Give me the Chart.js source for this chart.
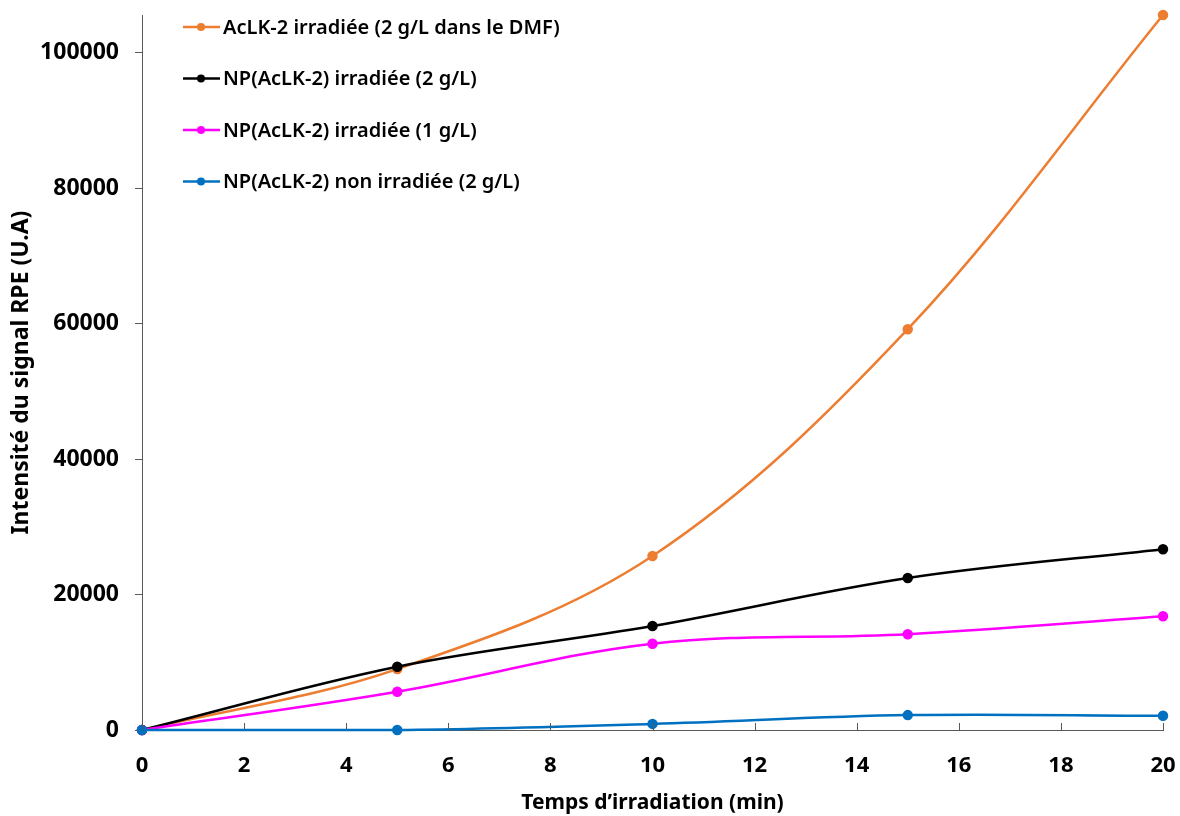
<!DOCTYPE html>
<html>
<head>
<meta charset="utf-8">
<title>Intensité du signal RPE</title>
<script src="https://cdn.jsdelivr.net/npm/chart.js@4.4.0/dist/chart.umd.min.js"></script>
<style>
  html, body { margin: 0; padding: 0; background: #fff; }
  #wrap { width: 1180px; height: 816px; }
</style>
</head>
<body>
<div id="wrap"><canvas id="rpeChart" width="1180" height="816"></canvas></div>
<script>
const times = [0, 5, 10, 15, 20];
const aclkDmf = [0, 9000, 25700, 59200, 105600];
const npIrr2 = [0, 9350, 15350, 22450, 26700];
const npIrr1 = [0, 5650, 12750, 14150, 16800];
const npNonIrr2 = [0, 0, 900, 2200, 2100];

const seriesNames = [
  'AcLK-2 irradiée (2 g/L dans le DMF)',
  'NP(AcLK-2) irradiée (2 g/L)',
  'NP(AcLK-2) irradiée (1 g/L)',
  'NP(AcLK-2) non irradiée (2 g/L)'
];
const seriesColors = ['#ED7D31', '#000000', '#FF00FF', '#0070C0'];
const seriesValues = [aclkDmf, npIrr2, npIrr1, npNonIrr2];

const xTicks = [0, 2, 4, 6, 8, 10, 12, 14, 16, 18, 20];
const yTicks = [0, 20000, 40000, 60000, 80000, 100000];

const FONT = '"Noto Sans", "Open Sans", sans-serif';
const axisColor = '#595959';

// legend drawn inside the plot area, line + dot + label, in the original order
const insideLegend = {
  id: 'insideLegend',
  afterDraw(chart) {
    const { ctx, chartArea } = chart;
    const x0 = chartArea.left + 41;
    ctx.save();
    ctx.font = '600 20px ' + FONT;
    ctx.textBaseline = 'middle';
    seriesNames.forEach((name, i) => {
      const y = chartArea.top + 12 + i * 51.5;
      ctx.strokeStyle = seriesColors[i];
      ctx.lineWidth = 2.5;
      ctx.beginPath();
      ctx.moveTo(x0, y);
      ctx.lineTo(x0 + 37, y);
      ctx.stroke();
      ctx.fillStyle = seriesColors[i];
      ctx.beginPath();
      ctx.arc(x0 + 18, y, 4, 0, Math.PI * 2);
      ctx.fill();
      ctx.fillStyle = '#000';
      ctx.fillText(name, x0 + 40, y + 1);
    });
    ctx.restore();
  }
};

// x-axis tick marks point inward (up), like the original
const innerXTicks = {
  id: 'innerXTicks',
  afterDraw(chart) {
    const { ctx, chartArea } = chart;
    const xs = chart.scales.x;
    ctx.save();
    ctx.strokeStyle = axisColor;
    ctx.lineWidth = 1;
    xTicks.forEach(v => {
      const px = Math.round(xs.getPixelForValue(v)) + 0.5;
      ctx.beginPath();
      ctx.moveTo(px, chartArea.bottom);
      ctx.lineTo(px, chartArea.bottom - 7);
      ctx.stroke();
    });
    ctx.restore();
  }
};

new Chart(document.getElementById('rpeChart'), {
  type: 'line',
  data: {
    // reversed so the first series is drawn last in the stack order of the original
    datasets: seriesNames.map((name, i) => ({
      label: name,
      data: times.map((t, j) => ({ x: t, y: seriesValues[i][j] })),
      borderColor: seriesColors[i],
      backgroundColor: seriesColors[i],
      borderWidth: 2.5,
      pointRadius: 4,
      pointHoverRadius: 4,
      tension: 0.35,
      fill: false,
      clip: false
    })).reverse()
  },
  options: {
    responsive: false,
    animation: false,
    layout: { padding: { top: 15, right: 17, left: 0, bottom: 0 } },
    plugins: {
      legend: { display: false },
      tooltip: { enabled: false }
    },
    scales: {
      x: {
        type: 'linear',
        min: 0,
        max: 20,
        afterBuildTicks: scale => { scale.ticks = xTicks.map(v => ({ value: v })); },
        afterFit: scale => {
          scale.height = 86;
          scale.paddingLeft = 0;
          scale.paddingRight = 0;
        },
        grid: { display: true, drawOnChartArea: false, drawTicks: false },
        border: { display: true, color: axisColor, width: 1 },
        ticks: {
          color: '#000',
          padding: 23,
          font: { family: FONT, size: 22, weight: 'bold' },
          callback: v => String(v)
        },
        title: {
          display: true,
          text: 'Temps d’irradiation (min)',
          color: '#000',
          font: { family: FONT, size: 21, weight: 'bold' },
          padding: { top: 5, bottom: 0 }
        }
      },
      y: {
        min: 0,
        max: 105600,
        afterBuildTicks: scale => { scale.ticks = yTicks.map(v => ({ value: v })); },
        afterFit: scale => {
          scale.width = 142;
          scale.paddingTop = 0;
          scale.paddingBottom = 0;
        },
        grid: { display: true, drawOnChartArea: false, drawTicks: true, tickLength: 7, tickColor: axisColor },
        border: { display: true, color: axisColor, width: 1 },
        ticks: {
          color: '#000',
          padding: 16,
          font: { family: FONT, size: 23, weight: 'bold' },
          callback: v => String(v)
        },
        title: {
          display: true,
          text: 'Intensité du signal RPE (U.A)',
          color: '#000',
          font: { family: FONT, size: 23, weight: 'bold' },
          padding: { top: 8, bottom: 2 }
        }
      }
    }
  },
  plugins: [insideLegend, innerXTicks]
});
</script>
</body>
</html>
